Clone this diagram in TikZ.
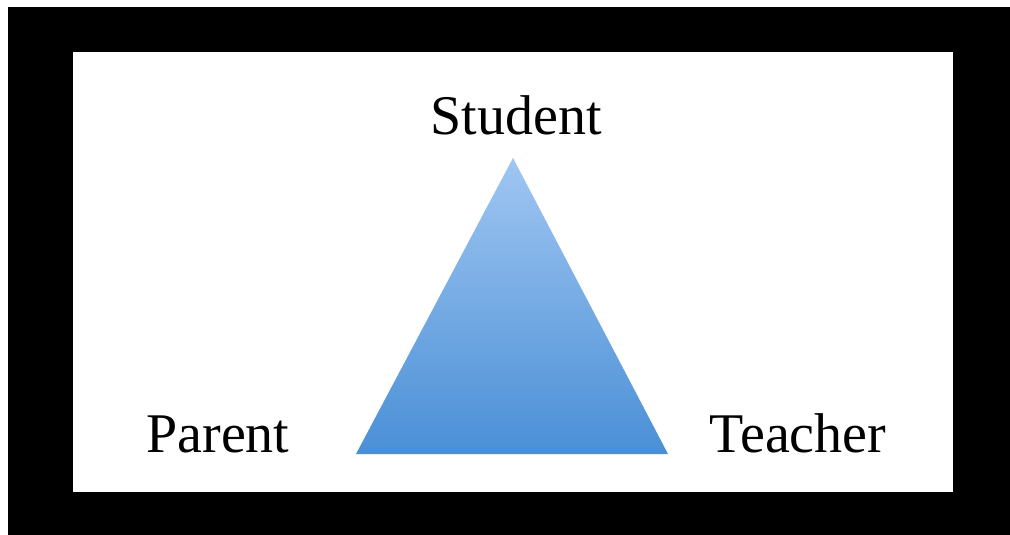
\documentclass[tikz,border=0pt]{standalone}
\usepackage{fontspec}
\setmainfont{Liberation Serif}
\begin{document}
\begin{tikzpicture}
[
    x=1pt, y=-1pt,
    word/.style={anchor=base, font=\fontsize{56}{60}\selectfont, inner sep=0pt},
]
\useasboundingbox (0,0) rectangle (1010,535);
\fill[black] (8,7) rectangle (1010,535);
\fill[white] (73,52) rectangle (953,492);
\coordinate (apex) at (513,158);
\coordinate (left) at (356,454);
\coordinate (right) at (668,454);
\shade[top color={rgb,255:red,160;green,198;blue,242}, bottom color={rgb,255:red,74;green,143;blue,214}]
    (apex) -- (right) -- (left) -- cycle;
\node[word] (student) at (516,135) {Student};
\node[word] (parent) at (218,452) {Parent};
\node[word] (teacher) at (798,452) {Teacher};
\end{tikzpicture}
\end{document}
